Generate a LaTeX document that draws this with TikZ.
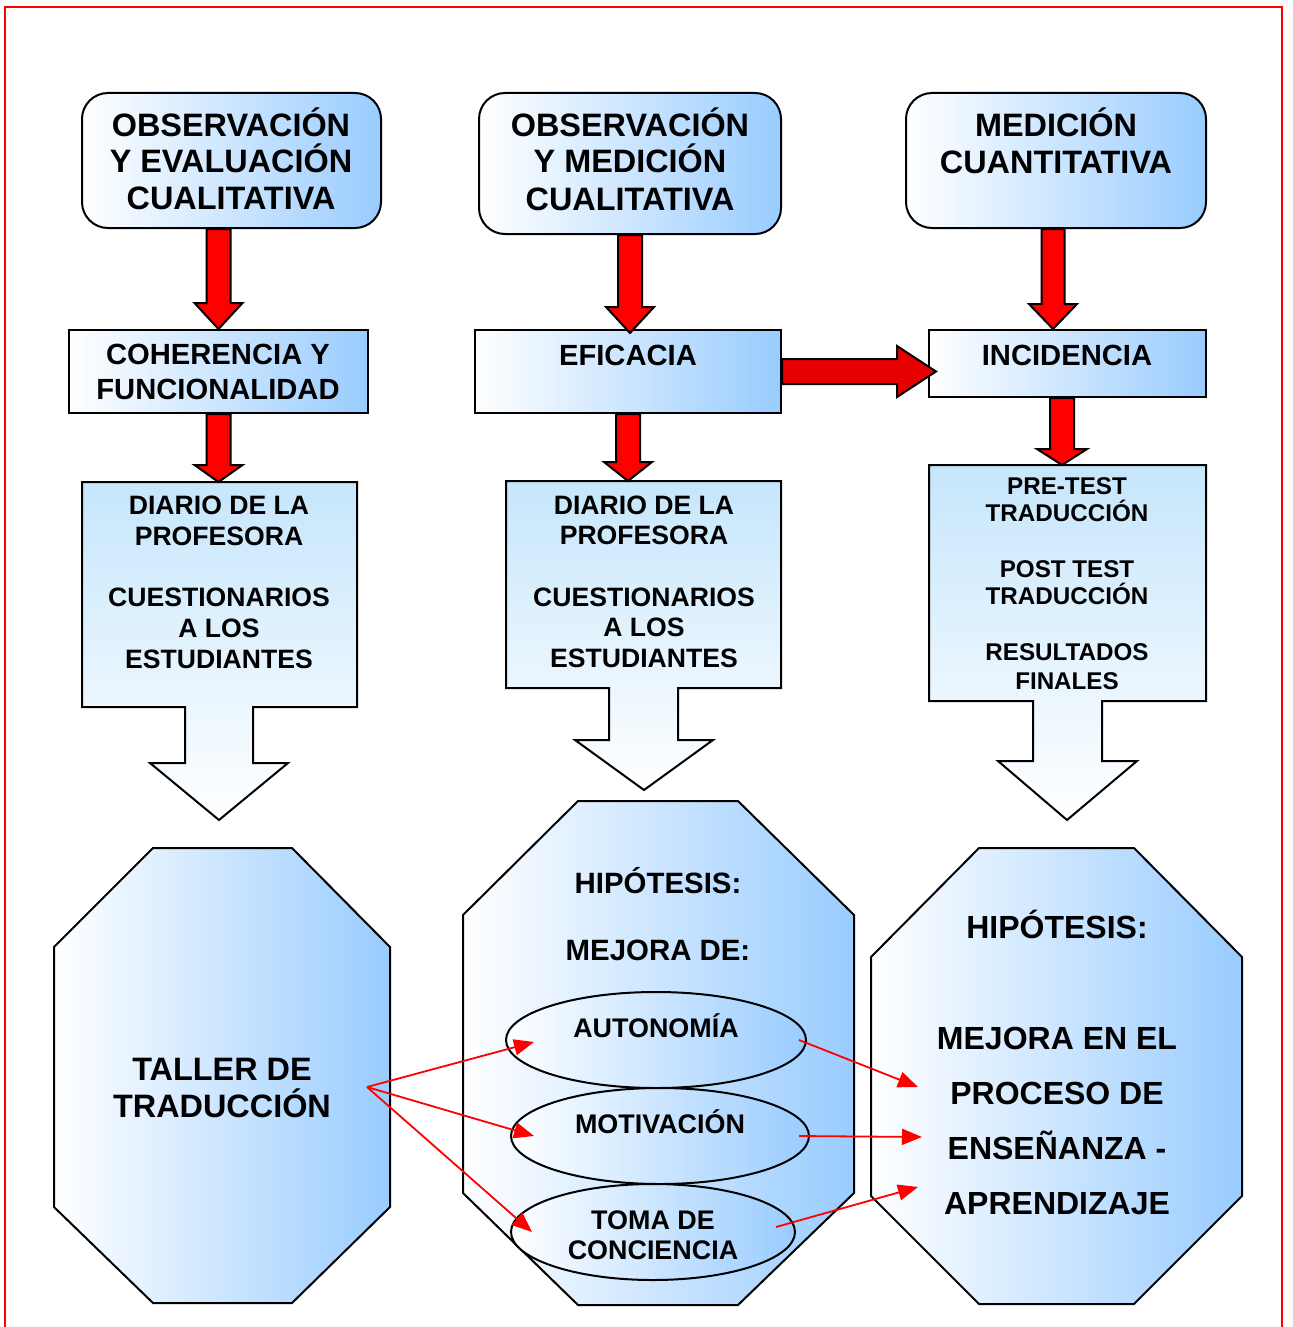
\documentclass[tikz,border=0pt]{standalone}
\usepackage{fontspec}
\setmainfont{Liberation Sans}
\usetikzlibrary{shapes.geometric,arrows.meta,calc}
\definecolor{bblue}{RGB}{153,204,255}
\definecolor{cblue}{RGB}{198,230,252}
\definecolor{arrred}{RGB}{255,0,0}
\definecolor{arrredd}{RGB}{230,0,0}
\tikzset{
  hshade/.style={draw=black, line width=1pt, left color=white, right color=bblue},
  hbox/.style={hshade, inner sep=0pt},
  topbox/.style={hbox, rounded corners=13pt},
  vshade/.style={draw=black, line width=1pt, top color=cblue, bottom color=white},
  ell/.style={ellipse, hshade, inner sep=0pt, minimum height=48pt},
  blockred/.style={draw=black, line width=1pt, fill=arrred},
  thinred/.style={draw=arrred, line width=0.9pt, -{Triangle[length=10pt,width=8pt]}},
}
\newcommand\txtline[5]{\node[anchor=base,inner sep=0pt,font=\fontsize{#4}{#4}\selectfont\bfseries] (#1) at (#2,#3) {#5};}
\newcommand\redarrowdown[5]{%
  \draw[blockred] let \p1=(#1), \p2=(#2) in
   (\x1-#3,\y1) -- (\x1+#3,\y1) -- (\x1+#3,\y2+#5) -- (\x1+#4,\y2+#5) -- (\x1,\y2)
   -- (\x1-#4,\y2+#5) -- (\x1-#3,\y2+#5) -- cycle;}
\begin{document}
\begin{tikzpicture}[x=0.5pt,y=-0.5pt]
\useasboundingbox (0,0) rectangle (1292,1327);
% border
\draw[arrred, line width=1.2pt] (5,1327) -- (5,7) -- (1282,7) -- (1282,1327);

% top boxes
\node[topbox, minimum width=149.5pt, minimum height=67.5pt] (a1) at (231.5,160.5) {};
\node[topbox, minimum width=151pt, minimum height=70.5pt] (a2) at (630,163.5) {};
\node[topbox, minimum width=150pt, minimum height=67.5pt] (a3) at (1056,160.5) {};
% second row
\node[hbox, minimum width=149.5pt, minimum height=41.5pt] (b1) at (218.5,371.5) {};
\node[hbox, minimum width=153pt, minimum height=41.5pt] (b2) at (628,371.5) {};
\node[hbox, minimum width=138.5pt, minimum height=33.5pt] (b3) at (1067.5,363.5) {};

% third row block shapes
\draw[vshade] (82,482) -- (357,482) -- (357,707) -- (253,707) -- (253,763) -- (288,763)
  -- (219,820) -- (150,763) -- (185,763) -- (185,707) -- (82,707) -- cycle;
\draw[vshade] (506,481) -- (781,481) -- (781,688) -- (678,688) -- (678,740) -- (713,740)
  -- (644,790) -- (575,740) -- (609,740) -- (609,688) -- (506,688) -- cycle;
\draw[vshade] (929,465) -- (1206,465) -- (1206,701) -- (1102,701) -- (1102,761) -- (1137,761)
  -- (1067,820) -- (998,761) -- (1033,761) -- (1033,701) -- (929,701) -- cycle;
\coordinate (c1top) at (219.5,482);
\coordinate (c2top) at (643.5,481);
\coordinate (c3top) at (1067.5,465);

% octagons
\draw[hshade] (153,848) -- (292,848) -- (390,947) -- (390,1207) -- (292,1303) -- (153,1303)
  -- (54,1207) -- (54,947) -- cycle;
\draw[hshade] (578,801) -- (738,801) -- (854,915) -- (854,1193) -- (738,1305) -- (578,1305)
  -- (463,1193) -- (463,915) -- cycle;
\draw[hshade] (979,848) -- (1134,848) -- (1242,957) -- (1242,1196) -- (1134,1304) -- (979,1304)
  -- (871,1196) -- (871,957) -- cycle;

% ellipses
\node[ell, minimum width=150pt] (aut) at (656,1040) {};
\node[ell, minimum width=149pt] (mot) at (660,1136) {};
\node[ell, minimum width=142pt] (tom) at (653,1232) {};

% red block arrows
\redarrowdown{a1.south -| b1.north}{b1.north}{6pt}{12pt}{13pt}
\redarrowdown{a2.south}{[yshift=-2pt]b2.north}{6pt}{12pt}{13pt}
\redarrowdown{[xshift=-1.5pt]a3.south}{b3.north}{5.75pt}{12pt}{12.5pt}
\redarrowdown{b1.south}{c1top}{6pt}{12pt}{8.5pt}
\redarrowdown{b2.south}{c2top}{6pt}{12pt}{9.5pt}
\redarrowdown{[xshift=-2.75pt]b3.south}{c3top}{6pt}{12.5pt}{8pt}
\draw[blockred, fill=arrredd] let \p1=(b2.east), \p2=([xshift=4pt]b3.west) in
  (\x1,\y1+6.25pt) -- (\x2-19.5pt,\y1+6.25pt) -- (\x2-19.5pt,\y1+12.75pt) -- (\x2,\y1)
  -- (\x2-19.5pt,\y1-12.75pt) -- (\x2-19.5pt,\y1-6.25pt) -- (\x1,\y1-6.25pt) -- cycle;

% thin red arrows
\coordinate (fan) at (367,1087);
\coordinate (h1) at (918,1087);
\coordinate (h2) at (922,1137);
\coordinate (h3) at (918,1187);
\draw[thinred] (fan) -- ([xshift=14.5pt,yshift=-1pt]aut.west);
\draw[thinred] (fan) -- ([xshift=12pt]mot.west);
\draw[thinred] (fan) -- ([xshift=11pt]tom.west);
\draw[thinred] ([xshift=-4pt]aut.east) -- (h1);
\draw[thinred] ([xshift=-5.5pt]mot.east) -- (h2);
\draw[thinred] ([xshift=-10pt,yshift=2.5pt]tom.east) -- (h3);

% texts
\txtline{ta1}{231}{136.7}{16.2}{OBSERVACIÓN}
\txtline{ta2}{231}{172.7}{16.2}{Y EVALUACIÓN}
\txtline{ta3}{231}{209.7}{16.2}{CUALITATIVA}
\txtline{tb1}{630}{136.7}{16.2}{OBSERVACIÓN}
\txtline{tb2}{630}{172.7}{16.2}{Y MEDICIÓN}
\txtline{tb3}{630}{210.7}{16.2}{CUALITATIVA}
\txtline{tc1}{1056}{136.7}{16.2}{MEDICIÓN}
\txtline{tc2}{1056}{173.7}{16.2}{CUANTITATIVA}

\txtline{td1}{218}{364.5}{14.6}{COHERENCIA Y}
\txtline{td2}{218}{399.5}{14.6}{FUNCIONALIDAD}
\txtline{te1}{628}{365.5}{14.6}{EFICACIA}
\txtline{tf1}{1067}{365.5}{14.6}{INCIDENCIA}

\txtline{tg1}{219}{514.5}{13.3}{DIARIO DE LA}
\txtline{tg2}{219}{545.5}{13.3}{PROFESORA}
\txtline{tg3}{219}{606.5}{13.3}{CUESTIONARIOS}
\txtline{tg4}{219}{637.5}{13.3}{A LOS}
\txtline{tg5}{219}{668.5}{13.3}{ESTUDIANTES}
\txtline{th1}{644}{514.5}{13.3}{DIARIO DE LA}
\txtline{th2}{644}{544.5}{13.3}{PROFESORA}
\txtline{th3}{644}{606.5}{13.3}{CUESTIONARIOS}
\txtline{th4}{644}{636.5}{13.3}{A LOS}
\txtline{th5}{644}{667.5}{13.3}{ESTUDIANTES}
\txtline{ti1}{1067}{494.7}{12.1}{PRE-TEST}
\txtline{ti2}{1067}{521.7}{12.1}{TRADUCCIÓN}
\txtline{ti3}{1067}{577.7}{12.1}{POST TEST}
\txtline{ti4}{1067}{604.7}{12.1}{TRADUCCIÓN}
\txtline{ti5}{1067}{660.7}{12.1}{RESULTADOS}
\txtline{ti6}{1067}{689.7}{12.1}{FINALES}

\txtline{tj1}{222}{1080.6}{16.2}{TALLER DE}
\txtline{tj2}{222}{1117.6}{16.2}{TRADUCCIÓN}
\txtline{tk1}{658}{893.6}{14.7}{HIPÓTESIS:}
\txtline{tk2}{658}{960.1}{14.7}{MEJORA DE:}
\txtline{tl1}{656}{1037.7}{13.45}{AUTONOMÍA}
\txtline{tl2}{660}{1133.7}{13.45}{MOTIVACIÓN}
\txtline{tl3}{653}{1229.7}{13.45}{TOMA DE}
\txtline{tl4}{653}{1259.7}{13.45}{CONCIENCIA}
\txtline{tm1}{1057}{938.5}{16}{HIPÓTESIS:}
\txtline{tm2}{1057}{1049.5}{16}{MEJORA EN EL}
\txtline{tm3}{1057}{1104.5}{16}{PROCESO DE}
\txtline{tm4}{1057}{1159.5}{16}{ENSEÑANZA -}
\txtline{tm5}{1057}{1214.5}{16}{APRENDIZAJE}
\end{tikzpicture}
\end{document}
